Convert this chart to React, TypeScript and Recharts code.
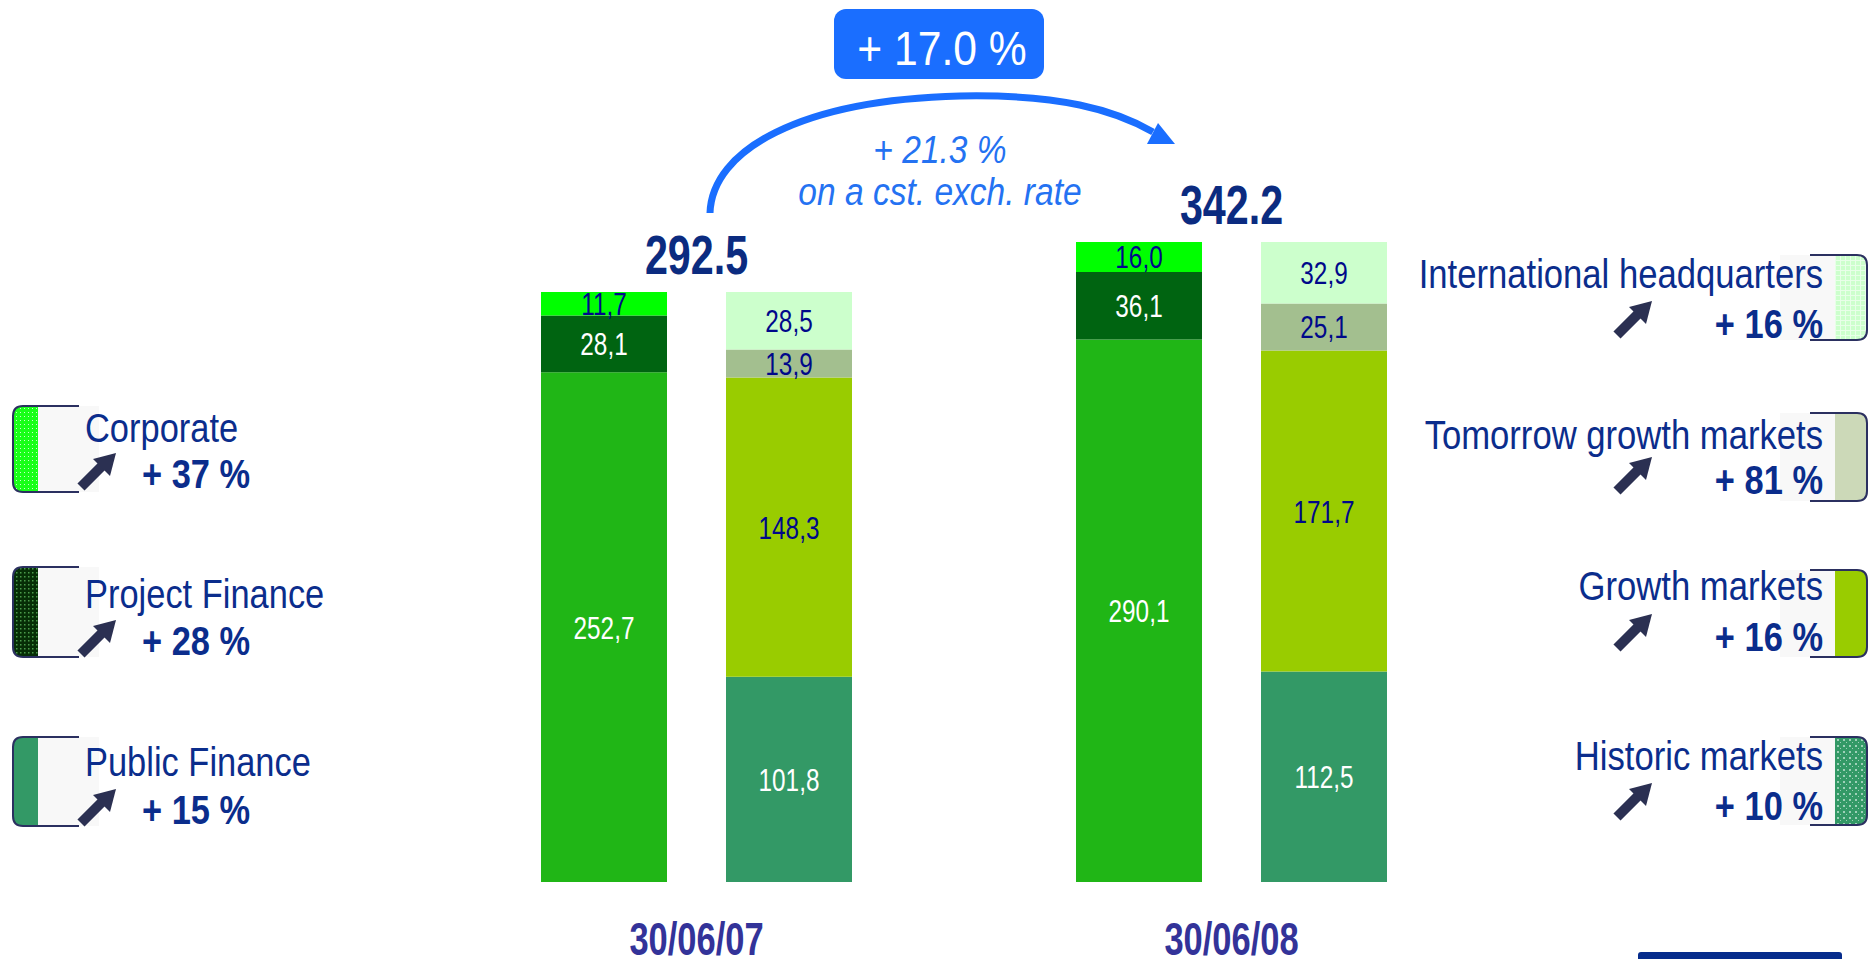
import React from 'react';
import { BarChart, Bar, XAxis, YAxis, LabelList, ReferenceDot } from 'recharts';

// ---------- data ----------
const dates = ['30/06/07', '30/06/08'];
const publicFinance = [252.7, 290.1];
const projectFinance = [28.1, 36.1];
const corporate = [11.7, 16.0];
const historicMarkets = [101.8, 112.5];
const growthMarkets = [148.3, 171.7];
const tomorrowGrowthMarkets = [13.9, 25.1];
const internationalHQ = [28.5, 32.9];
const totals = [292.5, 342.2];
const totalGrowth = '+ 17.0 %';
const constantRateGrowth = '+ 21.3 %';
const constantRateNote = 'on a cst. exch. rate';
const businessLegend = ['Corporate', 'Project Finance', 'Public Finance'];
const businessGrowth = ['+ 37 %', '+ 28 %', '+ 15 %'];
const geoLegend = ['International headquarters', 'Tomorrow growth markets', 'Growth markets', 'Historic markets'];
const geoGrowth = ['+ 16 %', '+ 81 %', '+ 16 %', '+ 10 %'];
// the source slide draws each date on its own scale
const axisMax = [361.9, 390.3];

const FONT = '"Liberation Sans", Arial, sans-serif';
const NAVY = '#0b2d8c';
const LABEL_NAVY = '#00088a';

const SERIES = [
  { key: 'pub', values: publicFinance, stack: 'biz', color: '#20b616', label: '#ffffff' },
  { key: 'proj', values: projectFinance, stack: 'biz', color: '#006411', label: '#ffffff' },
  { key: 'corp', values: corporate, stack: 'biz', color: '#00ff00', label: LABEL_NAVY },
  { key: 'hist', values: historicMarkets, stack: 'geo', color: '#339966', label: '#ffffff' },
  { key: 'grow', values: growthMarkets, stack: 'geo', color: '#99cc00', label: LABEL_NAVY },
  { key: 'tom', values: tomorrowGrowthMarkets, stack: 'geo', color: '#a3bf8f', label: LABEL_NAVY },
  { key: 'intl', values: internationalHQ, stack: 'geo', color: '#ccffcc', label: LABEL_NAVY },
];

const data = dates.map((date, i) => {
  const row: Record<string, any> = { date };
  SERIES.forEach((s) => {
    row[`${s.key}_${i}`] = s.values[i];
  });
  return row;
});

const fmt = (v: any) => (typeof v === 'number' ? v.toFixed(1).replace('.', ',') : typeof v === 'string' ? v : '');

// condensed text: a regular font squeezed horizontally around its anchor point
const NText = ({ x, y, sx, anchor = 'start', children, ...rest }: any) => (
  <text transform={`translate(${x} ${y}) scale(${sx} 1)`} x={0} y={0} textAnchor={anchor} fontFamily={FONT} {...rest}>
    {children}
  </text>
);

const DateTick = (props: any) => {
  const { x, y, payload } = props;
  return (
    <NText x={x} y={y + 65} sx={0.75} anchor="middle" fontSize={46} fontWeight="bold" fill="#333399">
      {payload.value}
    </NText>
  );
};

const makeSegmentLabel = (color: string) => (p: any) => {
  const vb = p.viewBox || p;
  const text = fmt(p.value);
  if (!text || !vb || !(vb.height > 0)) return null;
  return (
    <NText x={vb.x + vb.width / 2} y={vb.y + vb.height / 2 + 11.5} sx={0.76} anchor="middle" fontSize={32} fill={color}>
      {text}
    </NText>
  );
};

const TotalLabel = (p: any) => {
  const vb = p.viewBox;
  if (!vb) return null;
  return (
    <NText x={vb.x + (vb.width || 0) / 2} y={vb.y - 18} sx={0.75} anchor="middle" fontSize={55} fontWeight="bold" fill="#0b2b80">
      {p.text}
    </NText>
  );
};

const Arrow = ({ x, y }: { x: number; y: number }) => (
  <g>
    <line x1={x + 5} y1={y - 5} x2={x + 27} y2={y - 27} stroke="#2b3052" strokeWidth={10} />
    <polygon points={`${x + 40},${y - 39} ${x + 17},${y - 33} ${x + 34},${y - 16}`} fill="#2b3052" />
  </g>
);

const LeftSwatch = ({ x, top, bottom, fill }: { x: number; top: number; bottom: number; fill: string }) => (
  <g>
    <rect x={x + 25} y={top} width={61} height={bottom - top} fill="#f8f8f8" />
    <path d={`M ${x + 10} ${top} H ${x + 25} V ${bottom} H ${x + 10} Q ${x} ${bottom} ${x} ${bottom - 10} V ${top + 10} Q ${x} ${top} ${x + 10} ${top} Z`} fill={fill} />
    <path d={`M ${x + 66} ${top} H ${x + 10} Q ${x} ${top} ${x} ${top + 10} V ${bottom - 10} Q ${x} ${bottom} ${x + 10} ${bottom} H ${x + 66}`} fill="none" stroke="#2b3060" strokeWidth={2} />
  </g>
);

const RightSwatch = ({ right, top, bottom, fill }: { right: number; top: number; bottom: number; fill: string }) => (
  <g>
    <rect x={right - 87} y={top} width={56} height={bottom - top} fill="#f8f8f8" />
    <path d={`M ${right - 32} ${top} H ${right - 10} Q ${right} ${top} ${right} ${top + 10} V ${bottom - 10} Q ${right} ${bottom} ${right - 10} ${bottom} H ${right - 32} Z`} fill={fill} />
    <path d={`M ${right - 57} ${top} H ${right - 10} Q ${right} ${top} ${right} ${top + 10} V ${bottom - 10} Q ${right} ${bottom} ${right - 10} ${bottom} H ${right - 57}`} fill="none" stroke="#2b3060" strokeWidth={2} />
  </g>
);

const leftRows = [
  { top: 406, bottom: 492, name: 442, pct: 488, fill: 'url(#corpPat)' },
  { top: 567, bottom: 657, name: 608, pct: 655, fill: 'url(#projPat)' },
  { top: 737, bottom: 826, name: 776, pct: 824, fill: '#339966' },
];
const rightRows = [
  { top: 255, bottom: 340, name: 288, pct: 338, fill: 'url(#intlPat)' },
  { top: 413, bottom: 501, name: 449, pct: 494, fill: '#ccd9b8' },
  { top: 570, bottom: 657, name: 600, pct: 651, fill: '#99cc00' },
  { top: 737, bottom: 825, name: 770, pct: 820, fill: 'url(#histPat)' },
];

export default function App() {
  return (
    <div style={{ width: 1872, height: 959, overflow: 'hidden', background: '#ffffff' }}>
      <style>{'html,body{margin:0;padding:0;overflow:hidden;background:#fff}'}</style>
      <BarChart
        width={1872}
        height={959}
        data={data}
        margin={{ top: 152, right: 373, bottom: 47, left: 429 }}
        barSize={126}
        barGap={59}
      >
        <defs>
          <pattern id="corpPat" width="4" height="4" patternUnits="userSpaceOnUse">
            <rect width="4" height="4" fill="#19ff19" />
            <rect width="1" height="1" fill="#ccffcc" />
          </pattern>
          <pattern id="projPat" width="4" height="4" patternUnits="userSpaceOnUse">
            <rect width="4" height="4" fill="#062e06" />
            <rect width="1.5" height="1.5" fill="#4a9a4a" />
          </pattern>
          <pattern id="intlPat" width="5" height="5" patternUnits="userSpaceOnUse">
            <rect width="5" height="5" fill="#ccffcc" />
            <rect width="1" height="5" fill="#e8ffe8" />
            <rect width="5" height="1" fill="#e8ffe8" />
          </pattern>
          <pattern id="histPat" width="6" height="6" patternUnits="userSpaceOnUse">
            <rect width="6" height="6" fill="#339966" />
            <rect x="1" y="1" width="2" height="2" fill="#9fd0b8" />
            <rect x="4" y="4" width="1" height="1" fill="#9fd0b8" />
          </pattern>
        </defs>
        <XAxis dataKey="date" height={30} axisLine={false} tickLine={false} tick={<DateTick />} interval={0} />
        <YAxis yAxisId="y0" hide type="number" domain={[0, axisMax[0]]} allowDataOverflow />
        <YAxis yAxisId="y1" hide type="number" domain={[0, axisMax[1]]} allowDataOverflow />
        {dates.map((_, i) =>
          SERIES.map((s) => (
            <Bar
              key={`${s.key}_${i}`}
              dataKey={`${s.key}_${i}`}
              yAxisId={`y${i}`}
              stackId={s.stack}
              fill={s.color}
              isAnimationActive={false}
            >
              <LabelList dataKey={`${s.key}_${i}`} position="center" content={makeSegmentLabel(s.label)} />
            </Bar>
          ))
        )}
        {dates.map((d, i) => (
          <ReferenceDot
            key={`tot${i}`}
            x={d}
            y={totals[i]}
            yAxisId={`y${i}`}
            r={0}
            fill="none"
            stroke="none"
            label={<TotalLabel text={totals[i].toFixed(1)} />}
          />
        ))}

        {/* growth annotation */}
        <rect x={834} y={9} width={210} height={70} rx={12} fill="#1a6eff" />
        <NText x={942} y={65} sx={0.87} anchor="middle" fontSize={49} fill="#ffffff">
          {totalGrowth}
        </NText>
        <path d="M 710 213 C 712 150, 800 100, 960 96 C 1060 94, 1115 110, 1153 132" fill="none" stroke="#1a6eff" strokeWidth={7} />
        <polygon points="1175,144 1158,123 1147,144" fill="#1a6eff" />
        <NText x={940} y={163} sx={0.86} anchor="middle" fontStyle="italic" fontSize={39} fill="#2472f2">
          {constantRateGrowth}
        </NText>
        <NText x={940} y={205} sx={0.86} anchor="middle" fontStyle="italic" fontSize={39} fill="#2472f2">
          {constantRateNote}
        </NText>

        {/* left legend */}
        {leftRows.map((r, i) => (
          <g key={`l${i}`}>
            <LeftSwatch x={13} top={r.top} bottom={r.bottom} fill={r.fill} />
            <NText x={85} y={r.name} sx={0.84} fontSize={41} fill={NAVY}>
              {businessLegend[i]}
            </NText>
            <Arrow x={76} y={r.pct + 4} />
            <NText x={142} y={r.pct} sx={0.84} fontSize={41} fontWeight="bold" fill={NAVY}>
              {businessGrowth[i]}
            </NText>
          </g>
        ))}

        {/* right legend */}
        {rightRows.map((r, i) => (
          <g key={`r${i}`}>
            <RightSwatch right={1867} top={r.top} bottom={r.bottom} fill={r.fill} />
            <NText x={1823} y={r.name} sx={0.845} anchor="end" fontSize={41} fill={NAVY}>
              {geoLegend[i]}
            </NText>
            <Arrow x={1612} y={r.pct + 2} />
            <NText x={1823} y={r.pct} sx={0.84} anchor="end" fontSize={41} fontWeight="bold" fill={NAVY}>
              {geoGrowth[i]}
            </NText>
          </g>
        ))}

        <rect x={1638} y={952} width={204} height={10} rx={3} fill="#062c8c" />
      </BarChart>
    </div>
  );
}
